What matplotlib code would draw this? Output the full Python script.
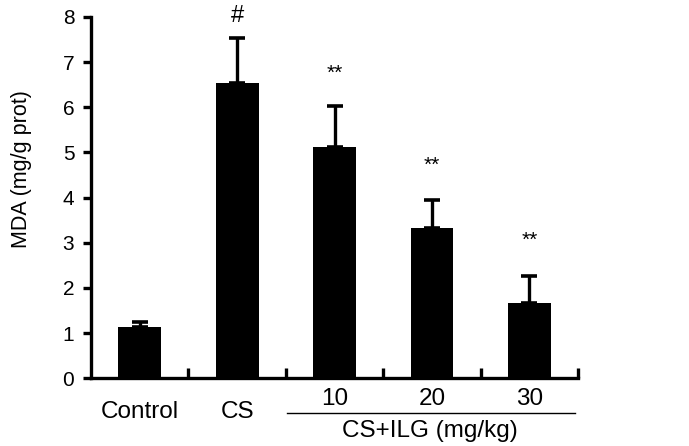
import numpy as np
import matplotlib.pyplot as plt

plt.rcParams['font.family'] = ['Liberation Sans', 'DejaVu Sans']

groups = ['Control', 'CS', '10', '20', '30']
mda = [1.13, 6.54, 5.12, 3.33, 1.66]
sd = [0.12, 1.00, 0.91, 0.62, 0.60]
marks = ['', '#', '**', '**', '**']
mark_y = [None, 8.02, 6.75, 4.72, 3.05]

fig = plt.figure(figsize=(6.89, 4.46), dpi=100)
ax = fig.add_axes([0.132, 0.152, 0.707, 0.81])

x = np.arange(len(groups)) + 0.5
ax.bar(x, mda, width=0.44, color='black')
ax.errorbar(x, mda, yerr=[np.zeros(len(sd)), sd], fmt='none', ecolor='black',
            elinewidth=2.4, capsize=5.5, capthick=2.6)

for xi, m, my in zip(x, marks, mark_y):
    if m:
        ax.text(xi, my, m, ha='center', va='center', fontsize=17 if m == '#' else 15,
                clip_on=False)

ax.set_xlim(0, 5)
ax.set_ylim(0, 8)
ax.set_yticks(range(0, 9))
ax.tick_params(axis='y', labelsize=15, width=2.4, length=6, direction='out', pad=6)
ax.set_xticks([1, 2, 3, 4, 5])
ax.set_xticklabels([])
ax.tick_params(axis='x', width=2.4, length=7, direction='in')
for s in ['top', 'right']:
    ax.spines[s].set_visible(False)
for s in ['left', 'bottom']:
    ax.spines[s].set_linewidth(2.4)
ax.set_ylabel('MDA (mg/g prot)', fontsize=15.5)
ax.yaxis.set_label_coords(-0.12, 0.58)

tr = ax.get_xaxis_transform()
for i, g in enumerate(groups):
    if i < 2:
        ax.text(x[i], -0.094, g, transform=tr, ha='center', va='center', fontsize=17.5)
    else:
        ax.text(x[i], -0.057, g, transform=tr, ha='center', va='center', fontsize=17.5)
ax.plot([2.01, 4.97], [-0.097, -0.097], transform=tr, color='black', lw=1, clip_on=False)
ax.text(3.48, -0.147, 'CS+ILG (mg/kg)', transform=tr, ha='center', va='center', fontsize=17.5)

fig.savefig('out.png', dpi=100)
